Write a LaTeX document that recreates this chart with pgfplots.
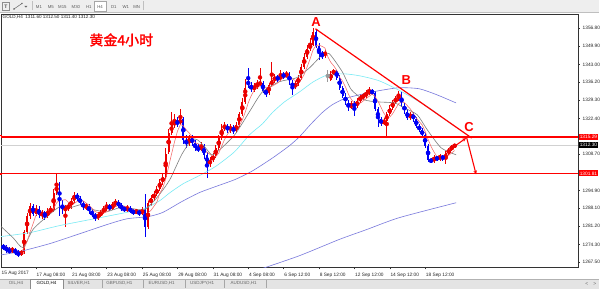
\documentclass[border=0pt]{standalone}
\usepackage{pgfplots}
\pgfplotsset{compat=1.18}
\usepackage{pgfplotstable}
\usepackage{fontspec}
\setmainfont{Liberation Sans}
\newfontfamily\cjk{Noto Sans CJK SC}[FakeBold=2]
\usetikzlibrary{arrows.meta}
\definecolor{upc}{RGB}{235,0,0}
\definecolor{dnc}{RGB}{0,0,245}
\definecolor{ma5}{RGB}{245,105,105}
\definecolor{ma20}{RGB}{125,125,125}
\definecolor{ma50}{RGB}{120,235,245}
\definecolor{ma100}{RGB}{120,120,220}
\definecolor{barbg}{RGB}{238,238,238}
\definecolor{tabbg}{RGB}{228,228,228}

\pgfplotstableread{
j O H L C
1 1273.5 1274.5 1272.3 1273.0
2 1273.0 1274.0 1271.2 1272.0
3 1272.0 1273.2 1270.8 1271.5
4 1271.5 1273.5 1271.0 1272.5
5 1272.5 1273.0 1270.2 1271.0
6 1271.0 1272.0 1269.6 1270.5
7 1270.5 1272.3 1269.7 1271.5
8 1271.5 1279.8 1270.8 1279.0
9 1279.0 1286.2 1278.2 1285.0
10 1285.0 1290.2 1284.0 1289.0
11 1289.0 1289.8 1285.0 1286.0
12 1286.0 1289.5 1285.2 1288.0
13 1288.0 1288.8 1284.5 1285.5
14 1285.5 1287.6 1284.0 1286.5
15 1286.5 1287.0 1283.6 1285.0
16 1285.0 1288.2 1284.4 1287.0
17 1287.0 1289.0 1286.0 1287.5
18 1287.5 1295.5 1286.8 1294.0
19 1294.0 1301.0 1293.2 1297.0
20 1297.0 1298.2 1285.0 1290.5
21 1290.5 1291.2 1285.8 1287.0
22 1287.0 1289.5 1281.0 1288.5
23 1288.5 1290.0 1287.0 1289.0
24 1289.0 1292.0 1288.0 1291.0
25 1291.0 1294.5 1290.2 1293.0
26 1293.0 1294.0 1291.0 1292.0
27 1292.0 1292.8 1289.2 1290.0
28 1290.0 1291.0 1287.5 1288.5
29 1288.5 1290.2 1287.6 1289.0
30 1289.0 1289.6 1286.0 1287.0
31 1287.0 1288.0 1284.6 1285.5
32 1285.5 1286.4 1283.2 1284.5
33 1284.5 1286.6 1283.6 1285.5
34 1285.5 1287.4 1284.6 1286.5
35 1286.5 1289.0 1285.8 1288.0
36 1288.0 1290.4 1287.2 1289.0
37 1289.0 1289.8 1287.0 1288.0
38 1288.0 1290.6 1287.4 1289.5
39 1289.5 1291.8 1288.6 1290.5
40 1290.5 1291.2 1288.2 1289.0
41 1289.0 1290.0 1287.0 1288.0
42 1288.0 1289.0 1286.5 1287.5
43 1287.5 1289.4 1286.8 1288.0
44 1288.0 1288.8 1286.2 1287.0
45 1287.0 1287.8 1285.5 1286.5
46 1286.5 1288.0 1285.8 1287.0
47 1287.0 1287.6 1285.2 1286.0
48 1286.0 1288.4 1285.4 1287.5
49 1287.5 1293.5 1277.0 1281.0
50 1281.0 1291.0 1280.2 1290.0
51 1290.0 1293.0 1289.0 1292.0
52 1292.0 1294.6 1291.0 1293.5
53 1293.5 1296.5 1292.6 1295.5
54 1295.5 1299.2 1294.8 1298.0
55 1298.0 1301.2 1297.0 1300.0
56 1300.0 1311.0 1299.4 1309.0
57 1309.5 1318.2 1308.8 1317.0
58 1317.0 1325.0 1316.0 1320.0
59 1320.0 1324.2 1318.6 1321.0
60 1321.0 1323.0 1319.0 1320.5
61 1320.5 1326.0 1319.8 1322.0
62 1322.0 1323.0 1312.8 1314.0
63 1314.0 1316.0 1311.0 1312.5
64 1312.5 1316.2 1311.8 1315.0
65 1315.0 1316.0 1311.8 1313.0
66 1313.0 1314.0 1309.8 1311.0
67 1311.0 1312.6 1309.4 1310.5
68 1310.5 1313.4 1309.8 1312.0
69 1312.0 1312.8 1307.0 1308.5
70 1308.5 1309.4 1299.5 1305.0
71 1305.0 1307.6 1303.8 1306.5
72 1306.5 1309.0 1305.6 1308.0
73 1308.0 1312.2 1307.2 1311.0
74 1311.0 1316.0 1310.2 1315.0
75 1315.0 1320.2 1314.2 1318.5
76 1318.5 1321.0 1317.6 1319.5
77 1319.5 1320.4 1316.8 1318.0
78 1318.0 1320.2 1317.0 1319.0
79 1319.0 1319.8 1316.4 1317.5
80 1317.5 1321.0 1316.8 1320.0
81 1320.0 1325.0 1319.2 1324.0
82 1324.0 1330.0 1323.2 1328.5
83 1328.5 1337.5 1327.8 1334.0
84 1336.8 1341.5 1334.0 1335.0
85 1335.0 1336.4 1332.4 1333.5
86 1333.5 1335.8 1332.6 1334.5
87 1334.5 1337.0 1333.6 1335.5
88 1335.5 1341.5 1334.6 1336.0
89 1336.0 1336.8 1332.0 1333.0
90 1333.0 1334.0 1330.4 1332.0
91 1332.0 1336.0 1331.2 1335.0
92 1335.0 1344.0 1334.2 1337.0
93 1337.0 1339.2 1336.0 1338.0
94 1338.0 1338.8 1336.4 1337.5
95 1337.5 1341.0 1336.8 1339.0
96 1339.0 1340.0 1337.6 1338.5
97 1338.5 1340.6 1337.8 1339.5
98 1339.5 1340.2 1335.2 1336.0
99 1336.0 1337.0 1331.5 1334.5
100 1334.5 1336.5 1333.8 1335.5
101 1335.5 1339.0 1334.8 1338.0
102 1338.0 1343.2 1337.2 1342.0
103 1342.0 1347.2 1341.2 1346.0
104 1346.0 1350.5 1345.2 1349.0
105 1349.0 1353.0 1348.0 1350.5
106 1350.5 1357.0 1350.0 1355.5
107 1355.5 1356.6 1349.2 1350.0
108 1350.0 1351.0 1344.6 1347.0
109 1347.0 1348.0 1345.0 1346.5
110 1346.5 1348.4 1345.6 1347.5
112 1337.2 1340.4 1336.6 1339.5
113 1339.5 1341.4 1338.8 1340.5
114 1340.5 1341.0 1337.2 1338.0
115 1338.0 1338.8 1333.2 1334.0
116 1334.0 1334.8 1330.2 1331.0
117 1331.0 1332.0 1327.6 1328.5
118 1328.5 1329.4 1325.2 1326.5
119 1326.5 1329.2 1325.8 1328.0
120 1328.0 1329.0 1323.2 1327.0
121 1327.0 1330.0 1326.2 1329.0
122 1329.0 1331.6 1328.2 1330.5
123 1330.5 1332.0 1329.6 1331.0
124 1331.0 1333.2 1330.2 1332.0
125 1332.0 1334.5 1331.2 1333.0
126 1333.0 1333.8 1331.2 1332.0
127 1332.0 1332.8 1325.2 1326.0
128 1326.0 1326.8 1319.0 1322.0
129 1322.0 1323.0 1319.6 1320.5
130 1320.5 1322.4 1319.8 1321.5
131 1321.5 1325.0 1315.5 1324.0
132 1324.0 1327.4 1323.2 1326.5
133 1326.5 1329.4 1325.6 1328.5
134 1328.5 1331.0 1327.8 1330.0
135 1330.0 1333.0 1329.2 1331.0
136 1331.0 1332.4 1326.8 1327.5
137 1327.5 1328.4 1324.2 1325.0
138 1325.0 1325.8 1321.8 1322.5
139 1322.5 1325.0 1321.8 1324.0
140 1324.0 1324.8 1321.2 1322.0
141 1322.0 1322.8 1318.8 1319.5
142 1319.5 1320.4 1317.2 1318.0
143 1318.0 1318.8 1315.2 1316.0
144 1316.0 1316.8 1311.2 1312.0
145 1312.0 1312.8 1305.6 1306.5
146 1306.5 1307.4 1305.2 1306.0
147 1306.0 1308.4 1305.4 1307.5
148 1307.5 1308.2 1306.0 1306.8
149 1306.8 1309.0 1306.2 1308.0
150 1308.0 1308.6 1306.2 1307.0
151 1307.0 1309.8 1305.0 1309.0
152 1309.0 1311.2 1308.4 1310.5
153 1310.5 1312.2 1310.0 1311.6
154 1311.6 1312.5 1311.4 1312.3
}\candles

\pgfplotsset{
  candle/.style n args={3}{color=#2, only marks, mark=none, forget plot,
    x filter/.expression={#1 ? x : nan},
    error bars/.cd, y dir=both, y explicit, error mark=none,
    error bar style={line width=#3, color=#2, line cap=butt}},
}

\begin{document}
\begin{tikzpicture}
\begin{scope}[x=1pt,y=1pt]
\path[use as bounding box] (0,0) rectangle (600,290);
\fill[white] (0,0) rectangle (600,290);
% toolbar
\fill[barbg] (0,278) rectangle (600,290);
\draw[black!25,line width=0.4pt] (0,277.6) -- (600,277.6);
\draw[black!45,line width=0.4pt] (2.5,280) rectangle (9.5,287.5);
\node[font=\fontsize{5}{5}\selectfont\bfseries, text=black!70, inner sep=0pt] at (6,283.6) {T};
\draw[black!60,line width=0.5pt] (14,281) -- (22,286.5);
\fill[black!60] (14,281) circle (0.8) (22,286.5) circle (0.8);
\fill[black!60] (24.5,284) -- (27.5,284) -- (26,282.4) -- cycle;
\draw[black!25] (32,279.5) -- (32,288.5);
\draw[black!25] (143,279.5) -- (143,288.5);
\fill[white] (94,279.2) rectangle (106.5,288.6);
\draw[black!35,line width=0.3pt] (94,279.2) rectangle (106.5,288.6);
\begin{scope}[every node/.style={font=\fontsize{4.3}{4.3}\selectfont, text=black!65, inner sep=0pt}]
\node at (39,283.4) {M1};
\node at (51,283.4) {M5};
\node at (62.5,283.4) {M15};
\node at (76,283.4) {M30};
\node at (89,283.4) {H1};
\node at (100.2,283.4) {H4};
\node at (114,283.4) {D1};
\node at (126,283.4) {W1};
\node at (137,283.4) {MN};
\end{scope}
% tab bar
\fill[tabbg] (0,0) rectangle (600,10.5);
\draw[black!30,line width=0.3pt] (0,10.5) -- (600,10.5);
\fill[white] (30,0) rectangle (63.5,10.8);
\draw[black!45,line width=0.3pt] (30,0) -- (30,10.8) -- (63.5,10.8) -- (63.5,0);
\foreach \xx in {102,143,185,225,267}{\draw[black!35,line width=0.3pt] (\xx,1.5) -- (\xx,9);}
\begin{scope}[every node/.style={font=\fontsize{4.5}{4.5}\selectfont, text=black!60, inner sep=0pt}]
\node at (16,5.8) {OIL,H4};
\node[text=black] at (46.5,5.8) {GOLD,H4};
\node at (79,5.8) {SILVER,H1};
\node at (119.5,5.8) {GBPUSD,H1};
\node at (162,5.8) {EURUSD,H1};
\node at (202.5,5.8) {USDJPY,H1};
\node at (244,5.8) {AUDUSD,H1};
\node at (588,5.8) {\fontsize{5}{5}\selectfont <};
\node at (596,5.8) {\fontsize{5}{5}\selectfont >};
\end{scope}
\end{scope}

\begin{axis}[
  at={(1pt,22pt)}, anchor=south west,
  scale only axis, width=578pt, height=254pt,
  xmin=0.152, xmax=195.82, ymin=1265.49, ymax=1362.25,
  axis line style={black!80, line width=0.5pt},
  tick align=outside, major tick length=2pt,
  tick style={black!80, line width=0.4pt},
  xtick pos=left, ytick pos=right, yticklabel pos=right,
  xtick={12,24,36,48,60,72,84,96,108,120,132,144},
  xticklabels={17 Aug 08:00,21 Aug 08:00,23 Aug 08:00,25 Aug 08:00,29 Aug 08:00,31 Aug 08:00,4 Sep 08:00,6 Sep 12:00,8 Sep 12:00,12 Sep 12:00,14 Sep 12:00,18 Sep 12:00},
  ytick={1267.5,1274.3,1281.2,1288.1,1294.9,1308.7,1322.4,1329.3,1336.2,1343.0,1349.9,1356.8},
  yticklabels={1267.50,1274.30,1281.20,1288.10,1294.90,1308.70,1322.40,1329.30,1336.20,1343.00,1349.90,1356.80},
  tick label style={font=\fontsize{4.8}{5}\selectfont, text=black!85},
  xticklabel style={anchor=north west, inner sep=0pt, xshift=0.6pt, yshift=-3.6pt},
  yticklabel style={anchor=west, inner sep=0pt, xshift=2.6pt},
]
% bid line
\addplot[black!18, line width=0.5pt, forget plot] coordinates {(0,1312.3) (196,1312.3)};
% candles: wicks then bodies
\addplot[candle={\thisrow{C}>\thisrow{O}}{upc}{0.65pt}]
  table[x=j, y expr={(\thisrow{H}+\thisrow{L})/2}, y error expr={(\thisrow{H}-\thisrow{L})/2}] {\candles};
\addplot[candle={\thisrow{C}<\thisrow{O}}{dnc}{0.65pt}]
  table[x=j, y expr={(\thisrow{H}+\thisrow{L})/2}, y error expr={(\thisrow{H}-\thisrow{L})/2}] {\candles};
\addplot[candle={\thisrow{C}>\thisrow{O}}{upc}{1.9pt}]
  table[x=j, y expr={(\thisrow{O}+\thisrow{C})/2}, y error expr={abs(\thisrow{C}-\thisrow{O})/2}] {\candles};
\addplot[candle={\thisrow{C}<\thisrow{O}}{dnc}{1.9pt}]
  table[x=j, y expr={(\thisrow{O}+\thisrow{C})/2}, y error expr={abs(\thisrow{C}-\thisrow{O})/2}] {\candles};
% doji bar (open = close = 1338.5, high 1340.8, low 1336.4)
\addplot[black!40, only marks, mark=none, forget plot,
  error bars/.cd, y dir=both, y explicit, error mark=none,
  error bar style={line width=0.7pt, color=black!40}]
  coordinates {(111,1338.6) +- (0,2.2)};

% moving averages
\addplot[ma100, line width=0.6pt, smooth, tension=0.4] coordinates {
(85,1263.5) (88.8,1265.1) (101.4,1270.0) (114.9,1276.2) (124,1279.9) (135.2,1284.5) (154.5,1290.2)};
\addplot[ma100, line width=0.6pt, smooth, tension=0.4] coordinates {
(0.2,1270.3) (6.6,1271.6) (16.7,1274.6) (26.9,1278.4) (37,1282.2) (43,1284.1) (50,1284.9) (55,1286.5)
(61.4,1290.6) (67.5,1294.1) (74,1296.8) (79.4,1299.0) (84.4,1301.7) (87.8,1304.0) (92.9,1307.8)
(98,1312.0) (101.4,1315.4) (105,1319.9) (109,1324.5) (112.5,1327.6) (116.6,1329.9) (121.7,1331.4)
(128,1332.9) (135.2,1334.1) (142,1333.7) (148,1331.4) (154.5,1328.3)};
\addplot[ma50, line width=0.6pt, smooth, tension=0.4] coordinates {
(0.2,1277.3) (10,1278.8) (20.1,1281.5) (33.7,1284.5) (44,1286.8) (48.9,1288.0) (54,1291.0) (57.4,1294.0)
(62,1297.5) (67.5,1300.6) (73,1304.1) (79.4,1309.7) (84.4,1316.1) (88.8,1320.3) (92.2,1324.6)
(96.3,1328.7) (101.4,1332.5) (106,1336.3) (110.9,1339.0) (116.6,1339.4) (122,1338.6) (128.5,1336.7)
(136.2,1332.5) (145.4,1326.4) (153.8,1319.5)};
\addplot[ma20, line width=0.6pt, smooth, tension=0.4] coordinates {
(0.2,1281.1) (4.2,1276.9) (7.6,1273.1) (11,1280.0) (15.7,1284.9) (20.1,1288.7) (23.5,1288.3) (27.6,1289.5)
(31.3,1287.6) (36,1286.8) (40.4,1288.3) (44.5,1288.0) (48.9,1287.6) (53.3,1292.5) (57.4,1299.0)
(61.4,1308.5) (64.8,1314.2) (66.8,1314.2) (69.2,1311.6) (71.6,1308.5) (73.6,1309.7) (79.4,1316.1)
(84.4,1324.9) (88.8,1332.5) (94.6,1336.4) (100.4,1337.9) (104.8,1341.7) (109.2,1346.7) (111.5,1347.1)
(115.9,1340.2) (119,1333.3) (123.4,1329.5) (127.8,1328.7) (133.6,1328.3) (136.9,1326.4) (141.3,1323.8)
(144.7,1318.1) (149.4,1311.2) (154.5,1308.5)};
\addplot[ma5, line width=0.55pt] coordinates {
(1,1274.0) (3,1272.8) (5,1272.0) (7,1271.4) (8,1272.9) (9,1275.4) (10,1279.0) (11,1282.1) (12,1285.4)
(13,1286.7) (15,1286.2) (17,1286.3) (18,1288.0) (19,1290.1) (20,1291.2) (21,1291.2) (22,1291.4)
(23,1290.4) (24,1289.2) (26,1290.7) (28,1290.9) (30,1289.3) (32,1286.9) (34,1285.8) (36,1286.7)
(38,1288.2) (40,1289.2) (42,1288.9) (44,1287.9) (46,1287.2) (48,1286.8) (49,1285.6) (50,1286.3)
(51,1287.3) (52,1288.8) (53,1290.4) (54,1293.8) (55,1295.8) (56,1299.2) (57,1303.9) (58,1308.8)
(59,1313.4) (60,1317.5) (61,1320.1) (62,1319.5) (63,1318.0) (64,1316.8) (65,1315.3) (66,1313.1)
(68,1312.3) (70,1309.4) (72,1308.0) (73,1307.8) (74,1309.1) (75,1311.8) (76,1314.4) (77,1316.4)
(78,1318.0) (80,1318.8) (81,1319.7) (82,1321.8) (83,1324.8) (84,1328.3) (85,1331.0) (86,1333.1)
(88,1334.9) (90,1334.2) (92,1334.6) (94,1335.9) (96,1338.0) (98,1338.1) (100,1336.8) (101,1336.7)
(102,1337.2) (103,1339.2) (104,1342.1) (105,1345.1) (106,1348.6) (107,1350.2) (108,1350.4)
(109,1349.9) (110,1349.3) (111,1345.9) (112,1343.8) (113,1342.5) (114,1340.8) (115,1338.1)
(116,1336.6) (117,1334.4) (118,1331.6) (119,1329.6) (120,1328.2) (122,1328.2) (124,1329.9)
(126,1331.7) (127,1330.8) (128,1329.0) (129,1326.7) (130,1324.4) (131,1322.8) (132,1322.9)
(133,1324.2) (134,1326.1) (135,1328.0) (136,1328.7) (137,1328.4) (138,1327.2) (139,1326.0)
(140,1324.2) (141,1322.6) (142,1321.2) (143,1319.9) (144,1317.5) (145,1314.4) (146,1311.7)
(147,1309.6) (148,1307.8) (149,1307.0) (150,1307.1) (151,1307.7) (152,1308.3) (153,1309.2) (154,1310.1)};

% levels and pattern
\addplot[red, line width=1.1pt] coordinates {(0,1315.29) (196,1315.29)};
\addplot[red, line width=1.1pt] coordinates {(0,1301.4) (196,1301.4)};
\addplot[red, line width=1.2pt] coordinates {(106.8,1356.6) (159.8,1314.9)};
\addplot[red, line width=1.1pt, -{Stealth[length=4pt,width=3.5pt]}] coordinates {(153.3,1311.2) (157.9,1314.9)};
\addplot[red, line width=1.1pt, -{Stealth[length=4pt,width=3.5pt]}] coordinates {(158.1,1315.0) (161.3,1301.0)};

\node[text=red, font=\fontsize{13}{13}\selectfont\bfseries, inner sep=0pt] at (axis cs:107,1359.3) {A};
\node[text=red, font=\fontsize{13}{13}\selectfont\bfseries, inner sep=0pt] at (axis cs:137.6,1337.2) {B};
\node[text=red, font=\fontsize{13}{13}\selectfont\bfseries, inner sep=0pt] at (axis cs:158.9,1319.2) {C};

\coordinate (P1) at (axis cs:195.82,1315.29);
\coordinate (P2) at (axis cs:195.82,1312.3);
\coordinate (P3) at (axis cs:195.82,1301.4);
\end{axis}

\begin{scope}[x=1pt,y=1pt]
\node[anchor=west, inner sep=0pt, font=\fontsize{4.6}{4.6}\selectfont, text=black!85] at (2.5,272.8) {GOLD,H4\ \ 1311.60 1312.50 1311.40 1312.30};
\node[text=red, inner sep=0pt, font=\cjk\fontsize{14}{14}\selectfont] at (121.5,250) {黄金4小时};
\node[anchor=west, fill=red, text=white, inner sep=0.7pt, minimum height=6pt, font=\fontsize{4.8}{5}\selectfont] at ([xshift=1pt]P1) {1315.29};
\node[anchor=west, fill=black, text=white, inner sep=0.7pt, minimum height=6pt, font=\fontsize{4.8}{5}\selectfont] at ([xshift=1pt]P2) {1312.30};
\node[anchor=west, fill=red, text=white, inner sep=0.7pt, minimum height=6pt, font=\fontsize{4.8}{5}\selectfont] at ([xshift=1pt]P3) {1301.81};
\node[anchor=north west, inner sep=0pt, font=\fontsize{4.8}{5}\selectfont, text=black!85] at (1.5,18.4) {15 Aug 2017};
\fill[red] (0,153.3) rectangle (2.2,154.9);
\fill[red] (0,115.0) rectangle (2.2,116.6);
\end{scope}
\end{tikzpicture}
\end{document}
